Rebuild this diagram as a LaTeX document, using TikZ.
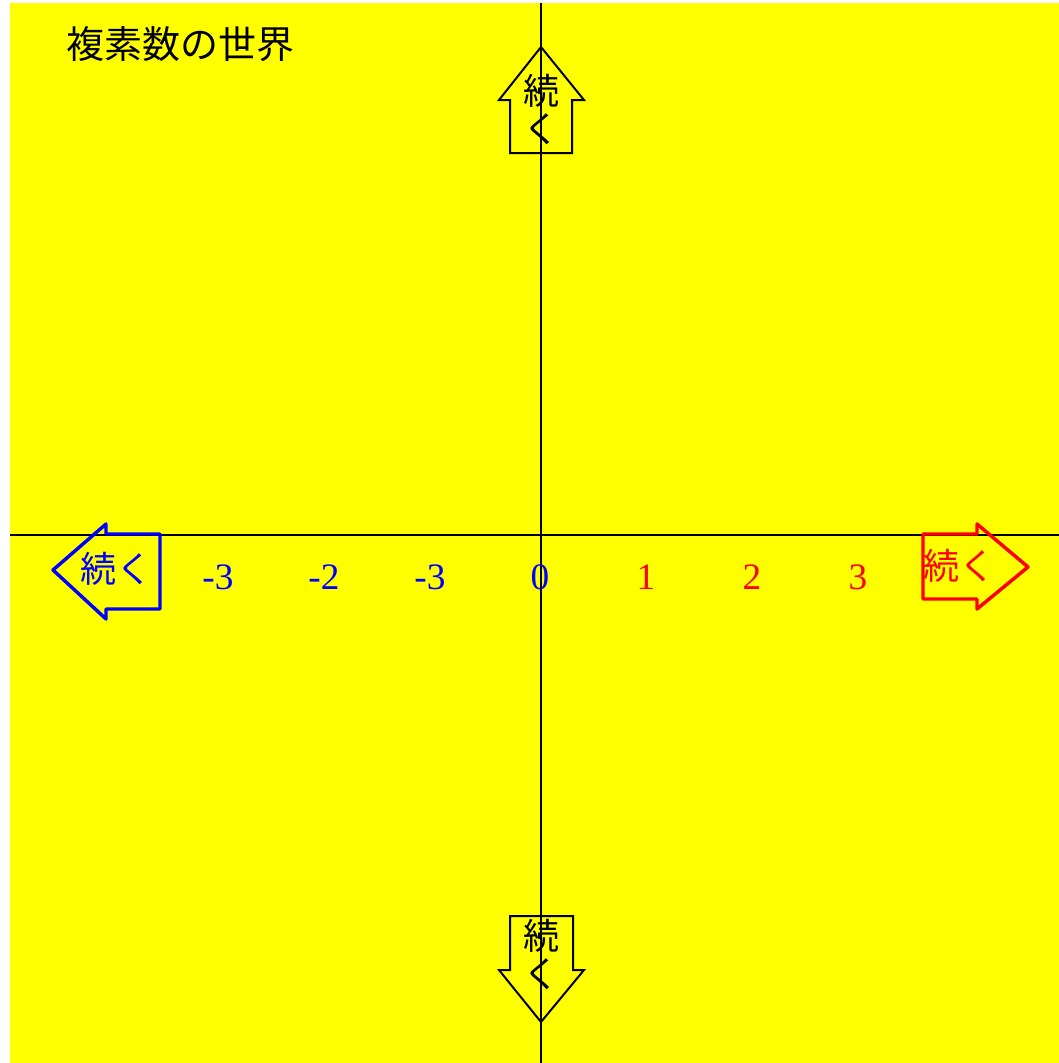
\documentclass[tikz,border=0pt]{standalone}
\usepackage{fontspec}
\setmainfont{Liberation Serif}
\newfontfamily\jpfont{Noto Sans CJK JP}
\usetikzlibrary{positioning}
\definecolor{bgyellow}{RGB}{255,255,0}
\definecolor{numblue}{RGB}{0,0,255}
\definecolor{numred}{RGB}{255,0,0}

\begin{document}
\begin{tikzpicture}[x=0.75pt, y=-0.75pt, node distance=79.5pt,
    jp/.style={font=\jpfont\fontsize{27}{28.5}\selectfont, align=center, inner sep=0pt},
    num/.style={font=\fontsize{28}{32}\selectfont, inner sep=0pt},
    axis/.style={line width=1.4pt},
    bigarrow/.style={line width=1.5pt, line join=miter},
    sidearrow/.style={line width=2.6pt, line join=round}]
    \useasboundingbox (0,0) rectangle (1059,1063);
    \fill[bgyellow] (10,3) rectangle (1059,1063);

    \node (title) [anchor=west, inner sep=0pt, font=\jpfont\fontsize{28.5}{32}\selectfont] at (66,44) {複素数の世界};

    % axes
    \coordinate (xl) at (10,535);
    \coordinate (xr) at (1059,535);
    \coordinate (yt) at (541,3);
    \coordinate (yb) at (541,1063);
    \draw[axis] (xl) -- (xr);
    \draw[axis] (yt) -- (yb);

    % arrows
    \draw[bigarrow] (541,47) -- (584,100) -- (572,100) -- (572,153) -- (510,153) -- (510,100) -- (499,100) -- cycle;
    \node (up) [jp] at (541,110) {続\\く};

    \draw[bigarrow] (510,916) -- (573,916) -- (573,970) -- (584,970) -- (541,1022) -- (499,970) -- (510,970) -- cycle;
    \node (down) [jp] at (541,955) {続\\く};

    \draw[sidearrow, numblue] (53,570) -- (106,524) -- (106,534) -- (160,534) -- (160,609) -- (106,609) -- (106,619) -- cycle;
    \node (left) [jp, text=numblue] at (116,569) {続く};

    \draw[sidearrow, numred] (1028,567) -- (977,524) -- (977,534) -- (923,534) -- (923,599) -- (977,599) -- (977,609) -- cycle;
    \node (right) [jp, text=numred] at (959,566) {続く};

    % numbers
    \node (zero) [num, text=numblue] at (540,577) {0};
    \node (mc) [num, text=numblue] at (430,577) {-3};
    \node (mb) [num, text=numblue, left of=mc] {-2};
    \node (ma) [num, text=numblue, left of=mb] {-3};
    \node (pa) [num, text=numred, right of=zero] {1};
    \node (pb) [num, text=numred, right of=pa] {2};
    \node (pc) [num, text=numred, right of=pb] {3};
\end{tikzpicture}
\end{document}
